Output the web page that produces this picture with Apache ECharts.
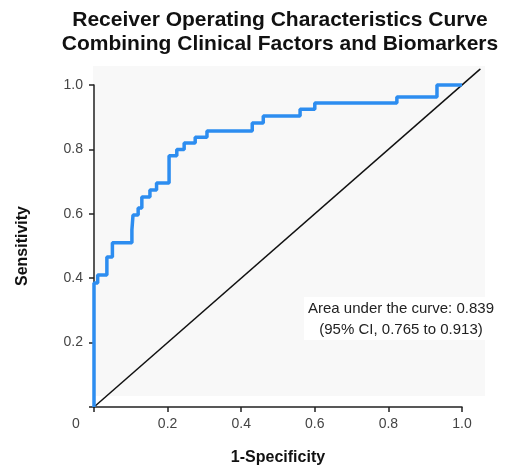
<!DOCTYPE html>
<html>
<head>
<meta charset="utf-8">
<script src="https://cdn.jsdelivr.net/npm/echarts@6/dist/echarts.min.js"></script>
<style>html,body{margin:0;padding:0;background:#fff;}#c{width:506px;height:468px;}</style>
</head>
<body>
<div id="c"></div>
<script>
const fpr = [0, 0, 0.01, 0.035, 0.05, 0.103, 0.106, 0.12, 0.13, 0.152, 0.17, 0.204, 0.225, 0.245, 0.275, 0.307, 0.43, 0.46, 0.56, 0.60, 0.823, 0.932, 1.0];
const tpr = [0, 0.385, 0.41, 0.466, 0.51, 0.55, 0.596, 0.618, 0.652, 0.674, 0.696, 0.78, 0.80, 0.82, 0.838, 0.857, 0.882, 0.904, 0.925, 0.944, 0.963, 1.0, 1.0];
const refX = [0, 1.05];
const refY = [0, 1.05];
const tickValues = [0, 0.2, 0.4, 0.6, 0.8, 1.0];
const titleLines = ['Receiver Operating Characteristics Curve', 'Combining Clinical Factors and Biomarkers'];
const aucText = ['Area under the curve: 0.839', '(95% CI, 0.765 to 0.913)'];

const chart = echarts.init(document.getElementById('c'), null, {renderer: 'canvas'});
const font = 'Liberation Sans, Arial, sans-serif';
// main grid: 0..1 mapped to x 94..462, y 407..85
const gL = 94, gR = 462, gT = 85, gB = 407;
const extMax = 1.05;
const gW = gR - gL, gH = gB - gT;
const axisCommon = {
  type: 'value', min: 0, max: 1, interval: 0.2,
  axisLine: {show: true, onZero: false, lineStyle: {color: '#222', width: 1.5}},
  axisTick: {show: true, length: 5, lineStyle: {color: '#222', width: 1.5}},
  splitLine: {show: false},
  axisLabel: {color: '#444', fontSize: 14, fontFamily: font,
    formatter: v => v === 0 ? '' : v.toFixed(1)},
  nameTextStyle: {color: '#111', fontSize: 16, fontWeight: 'bold', fontFamily: font}
};
const hiddenAxis = {type: 'value', min: 0, max: extMax, show: false, splitLine: {show: false}};
chart.setOption({
  animation: false,
  backgroundColor: '#fff',
  title: {
    text: titleLines.join('\n'), left: 275, top: 3, textAlign: 'center',
    textStyle: {fontSize: 21, fontWeight: 'bold', color: '#111', fontFamily: font, lineHeight: 24}
  },
  grid: [
    {left: gL, right: 506 - gR, top: gT, bottom: 468 - gB, containLabel: false, outerBoundsMode: 'none'},
    {left: gL, width: gW * extMax, top: gB - gH * extMax, height: gH * extMax, containLabel: false, outerBoundsMode: 'none'}
  ],
  xAxis: [
    Object.assign({}, axisCommon, {
      gridIndex: 0,
      name: '1-Specificity', nameLocation: 'middle', nameGap: 43,
      axisLabel: Object.assign({}, axisCommon.axisLabel, {margin: 10})
    }),
    Object.assign({gridIndex: 1}, hiddenAxis)
  ],
  yAxis: [
    Object.assign({}, axisCommon, {
      gridIndex: 0,
      name: 'Sensitivity', nameLocation: 'middle', nameGap: 63,
      axisLabel: Object.assign({}, axisCommon.axisLabel, {margin: 11})
    }),
    Object.assign({gridIndex: 1}, hiddenAxis)
  ],
  graphic: [
    {type: 'rect', z: -10, shape: {x: 93, y: 66, width: 392, height: 330}, style: {fill: '#f8f8f8'}},
    {type: 'rect', z: -5, shape: {x: 304, y: 297, width: 192, height: 43}, style: {fill: '#ffffff'}},
    {type: 'text', left: 72, top: 417, style: {text: '0', fontSize: 14, fill: '#444', fontFamily: font}},
    {type: 'text', z: 10, x: 401, y: 298, style: {text: aucText.join('\n'), fontSize: 15, lineHeight: 21, fill: '#222', fontFamily: font, align: 'center'}}
  ],
  series: [
    {
      type: 'line', xAxisIndex: 1, yAxisIndex: 1,
      data: refX.map((x, i) => [x, refY[i]]), showSymbol: false,
      lineStyle: {color: '#111', width: 1.5}, silent: true, z: 2
    },
    {
      type: 'line', step: 'end', data: fpr.map((x, i) => [x, tpr[i]]), showSymbol: false, clip: false,
      lineStyle: {color: '#2d8df0', width: 3.5}, z: 3
    }
  ]
});
</script>
</body>
</html>
